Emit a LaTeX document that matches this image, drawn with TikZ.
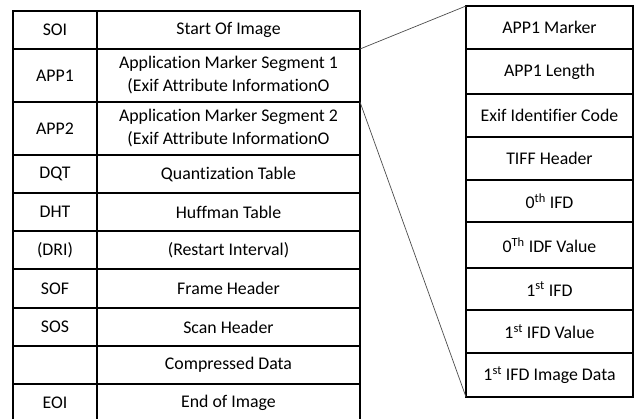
\documentclass[tikz,border=0pt]{standalone}
\usepackage{fontspec}
\setmainfont{Carlito}[Ligatures=NoCommon]
\begin{document}
\begin{tikzpicture}[x=1pt,y=-1pt,
  cell/.style={draw=black,line width=1.3pt,rectangle,inner sep=0pt,outer sep=0pt,
    align=center,font=\fontsize{17.8}{23}\selectfont},
  lc/.style={cell,minimum width=84pt},
  rc/.style={cell,minimum width=263pt},
  sc/.style={cell,minimum width=167pt},
  link/.style={draw=black!70,line width=0.7pt}]
\useasboundingbox (0,0) rectangle (640,418);
% left table
\node[lc,minimum height=38pt] (k1) at (55,30) {SOI};
\node[rc,minimum height=38pt] (v1) at (228.5,30) {Start Of Image};
\node[lc,minimum height=53pt] (k2) at (55,75.5) {APP1};
\node[rc,minimum height=53pt] (v2) at (228.5,75.5) {Application Marker Segment 1\\(Exif Attribute InformationO};
\node[lc,minimum height=53pt] (k3) at (55,128.5) {APP2};
\node[rc,minimum height=53pt] (v3) at (228.5,128.5) {Application Marker Segment 2\\(Exif Attribute InformationO};
\node[lc,minimum height=38pt] (k4) at (55,174) {DQT};
\node[rc,minimum height=38pt] (v4) at (228.5,174) {Quantization Table};
\node[lc,minimum height=38pt] (k5) at (55,212) {DHT};
\node[rc,minimum height=38pt] (v5) at (228.5,212) {Huffman Table};
\node[lc,minimum height=38pt] (k6) at (55,250) {(DRI)};
\node[rc,minimum height=38pt] (v6) at (228.5,250) {(Restart Interval)};
\node[lc,minimum height=39pt] (k7) at (55,288.5) {SOF};
\node[rc,minimum height=39pt] (v7) at (228.5,288.5) {Frame Header};
\node[lc,minimum height=38pt] (k8) at (55,327) {SOS};
\node[rc,minimum height=38pt] (v8) at (228.5,327) {Scan Header};
\node[lc,minimum height=38pt] (k9) at (55,365) {};
\node[rc,minimum height=38pt] (v9) at (228.5,365) {Compressed Data};
\node[lc,minimum height=38pt] (k10) at (55,403) {EOI};
\node[rc,minimum height=38pt] (v10) at (228.5,403) {End of Image};
% right table
\node[sc,minimum height=43pt] (r1) at (549.5,27.5) {APP1 Marker};
\node[sc,minimum height=45pt] (r2) at (549.5,71.5) {APP1 Length};
\node[sc,minimum height=43pt] (r3) at (549.5,115.5) {Exif Identifier Code};
\node[sc,minimum height=43pt] (r4) at (549.5,158.5) {TIFF Header};
\node[sc,minimum height=42pt] (r5) at (549.5,201) {0\textsuperscript{th} IFD};
\node[sc,minimum height=46pt] (r6) at (549.5,245) {0\textsuperscript{Th} IDF Value};
\node[sc,minimum height=42pt] (r7) at (549.5,289) {1\textsuperscript{st} IFD};
\node[sc,minimum height=43pt] (r8) at (549.5,331.5) {1\textsuperscript{st} IFD Value};
\node[sc,minimum height=44pt] (r9) at (549.5,375) {1\textsuperscript{st} IFD Image Data};
% connectors
\draw[link] (v2.north east) -- (r1.north west);
\draw[link] (v3.north east) -- (r9.south west);
\end{tikzpicture}
\end{document}
